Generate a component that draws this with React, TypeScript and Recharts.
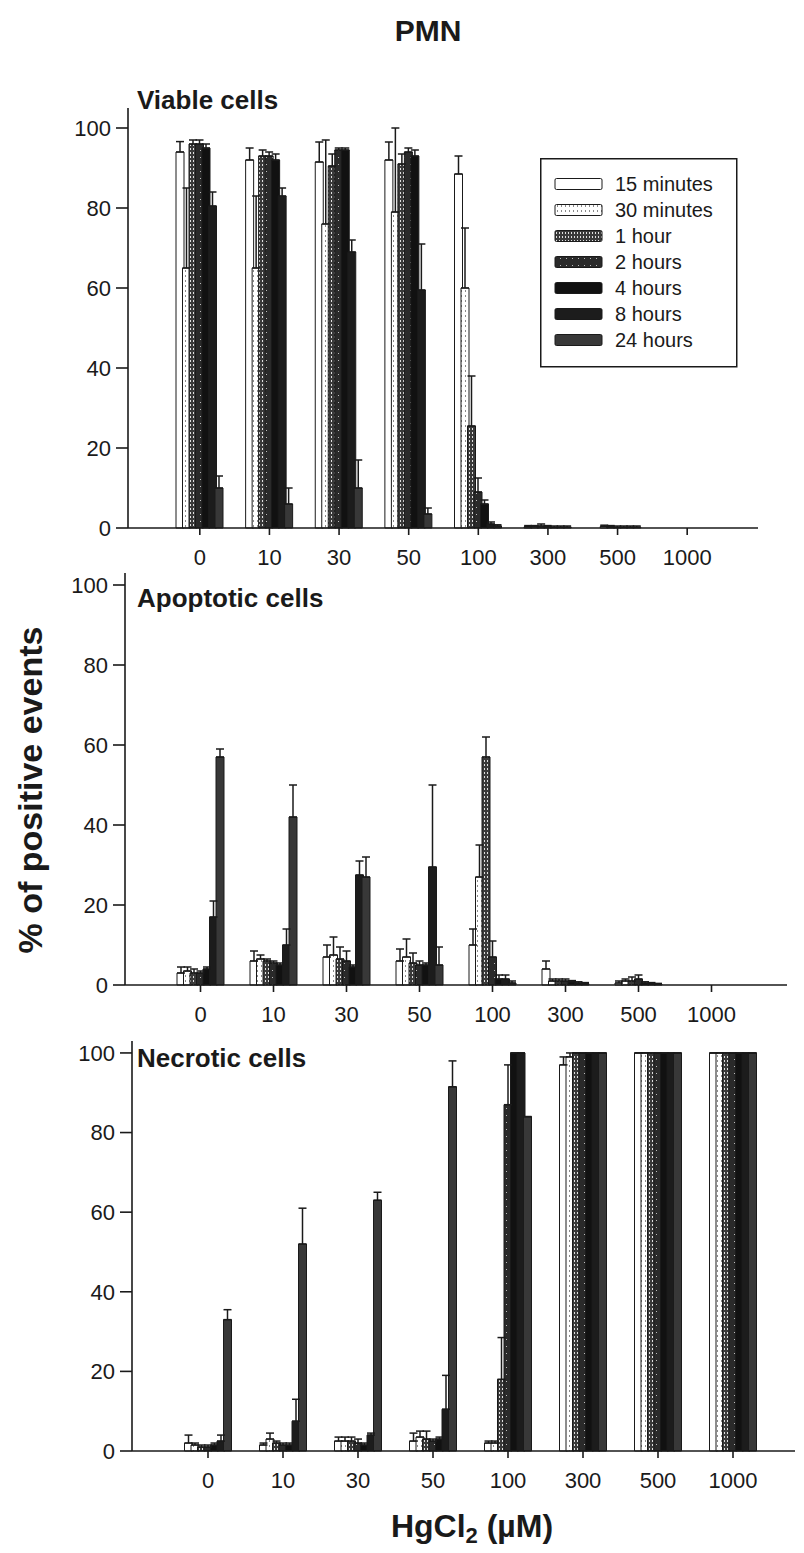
import React from "react";
import { BarChart, Bar, XAxis, YAxis, ErrorBar } from "recharts";

const categories = ["0", "10", "30", "50", "100", "300", "500", "1000"];
const seriesNames = ["15 minutes", "30 minutes", "1 hour", "2 hours", "4 hours", "8 hours", "24 hours"];
const yTicks = [0, 20, 40, 60, 80, 100];

// rows = incubation time (15 min ... 24 h), columns = HgCl2 dose
const viableMean = [
  [94, 92, 91.5, 92, 88.5, 0.3, 0, 0],
  [65, 65, 76, 79, 60, 0.3, 0.4, 0],
  [96, 93, 90.5, 91, 25.5, 0.5, 0.3, 0],
  [96, 93, 94.5, 94, 9, 0.3, 0.2, 0],
  [95, 92, 94.5, 93, 6, 0.2, 0.2, 0],
  [80.5, 83, 69, 59.5, 1, 0.2, 0.2, 0],
  [10, 6, 10, 3.5, 0.5, 0.2, 0.2, 0],
];
const viableErr = [
  [2.6, 3, 5, 4.5, 4.5, 0.3, 0, 0],
  [20, 18, 21, 21, 15, 0.3, 0.3, 0],
  [1, 1.5, 3, 2.5, 12.5, 0.5, 0.3, 0],
  [1, 1, 0.5, 1, 3.5, 0.3, 0.3, 0],
  [1, 1.5, 0.5, 1.5, 1, 0.3, 0.3, 0],
  [3.5, 2, 3, 11.5, 0.5, 0.3, 0.3, 0],
  [3, 4, 7, 1.5, 0.3, 0.3, 0.3, 0],
];

const apoptoticMean = [
  [3, 6, 7, 6, 10, 4, 0.5, 0],
  [3.5, 6.5, 7.5, 7, 27, 1, 1, 0],
  [3, 6, 6.5, 5.5, 57, 1, 1, 0],
  [3, 5.5, 6, 5, 7, 1, 1.5, 0],
  [4, 5, 4.5, 5, 1.5, 0.8, 0.5, 0],
  [17, 10, 27.5, 29.5, 1.5, 0.5, 0.3, 0],
  [57, 42, 27, 5, 0.5, 0.3, 0.2, 0],
];
const apoptoticErr = [
  [1.5, 2.5, 3, 3, 4, 2, 0.5, 0],
  [1, 1, 4.5, 4.5, 8, 0.5, 0.5, 0],
  [1, 0.5, 3, 2.5, 5, 0.5, 1, 0],
  [0.5, 0.5, 2.5, 1, 4, 0.5, 1, 0],
  [0.5, 0.5, 0.5, 0.5, 1, 0.3, 0.3, 0],
  [4, 4, 3.5, 20.5, 1, 0.3, 0.3, 0],
  [2, 8, 5, 4.5, 0.5, 0.3, 0.2, 0],
];

const necroticMean = [
  [2, 1.5, 2.5, 2.5, 2, 97, 100, 100],
  [1.5, 3, 2.5, 3.5, 2, 99, 100, 100],
  [1, 2, 2.5, 3, 18, 100, 100, 100],
  [1, 1.5, 2, 2.5, 87, 100, 100, 100],
  [1.5, 1.5, 1.5, 3, 100, 100, 100, 100],
  [2.5, 7.5, 4, 10.5, 100, 100, 100, 100],
  [33, 52, 63, 91.5, 84, 100, 100, 100],
];
const necroticErr = [
  [2, 0.5, 1, 2, 0.5, 2, 0, 0],
  [0.5, 1.5, 1, 1.5, 0.5, 1, 0, 0],
  [0.5, 0.5, 1, 2, 10.5, 0, 0, 0],
  [0.5, 0.5, 1, 0.5, 10, 0, 0, 0],
  [0.5, 0.5, 0.5, 0.5, 0, 0, 0, 0],
  [1.5, 5.5, 0.5, 8.5, 0, 0, 0, 0],
  [2.5, 9, 2, 6.5, 0, 0, 0, 0],
];

const fills = ["#ffffff", "url(#p30)", "url(#p1h)", "url(#p2h)", "#111111", "#1c1c1c", "#383838"];

const font = "'Liberation Sans', Arial, Helvetica, sans-serif";
const ink = "#1a1a1a";

function buildRows(mean: number[][], err: number[][]) {
  return categories.map((dose, j) => {
    const row: Record<string, any> = { dose };
    seriesNames.forEach((_, i) => {
      row[`m${i}`] = mean[i][j];
      row[`e${i}`] = [0, err[i][j]];
    });
    return row;
  });
}

interface PanelProps {
  data: Record<string, any>[];
  top: number;
  height: number;
  margin: { top: number; right: number; left: number; bottom: number };
  pad: { left: number; right: number };
  yMax: number;
}

function Panel({ data, top, height, margin, pad, yMax }: PanelProps) {
  const line = { stroke: ink, strokeWidth: 1.6 };
  const tick = { fontSize: 22, fill: ink, fontFamily: font };
  return (
    <div style={{ position: "absolute", left: 0, top, width: 804, height }}>
      <BarChart width={804} height={height} data={data} margin={margin} barSize={8} barGap={-1.5}>
        <XAxis
          dataKey="dose"
          interval={0}
          padding={pad}
          height={40}
          tickSize={7}
          tickMargin={14}
          axisLine={line}
          tickLine={line}
          tick={tick}
        />
        <YAxis
          domain={[0, yMax]}
          ticks={yTicks}
          width={60}
          tickSize={12}
          tickMargin={5}
          axisLine={line}
          tickLine={line}
          tick={tick}
        />
        {seriesNames.map((name, i) => (
          <Bar key={name} dataKey={`m${i}`} fill={fills[i]} stroke={ink} strokeWidth={1} isAnimationActive={false}>
            <ErrorBar dataKey={`e${i}`} width={4} stroke={ink} strokeWidth={1.5} direction="y" />
          </Bar>
        ))}
      </BarChart>
    </div>
  );
}

function Legend() {
  return (
    <svg style={{ position: "absolute", left: 540, top: 158 }} width={198} height={210}>
      <rect x={0.75} y={0.75} width={196} height={208} fill="#fff" stroke={ink} strokeWidth={1.5} />
      {seriesNames.map((name, i) => (
        <g key={name} transform={`translate(0, ${26 + i * 26})`}>
          <rect x={15} y={-5.5} width={47} height={11} fill={fills[i]} stroke={ink} strokeWidth={1} rx={1.5} />
          <text x={75} y={7} fontSize={20} fill={ink} fontFamily={font}>
            {name}
          </text>
        </g>
      ))}
    </svg>
  );
}

const titleStyle: React.CSSProperties = {
  position: "absolute",
  fontFamily: font,
  fontWeight: 700,
  color: ink,
  whiteSpace: "nowrap",
  lineHeight: 1,
};

export default function App() {
  const viable = buildRows(viableMean, viableErr);
  const apoptotic = buildRows(apoptoticMean, apoptoticErr);
  const necrotic = buildRows(necroticMean, necroticErr);

  return (
    <div style={{ position: "absolute", left: 0, top: 0, width: 804, height: 1553, background: "#fff", overflow: "hidden" }}>
      <svg width={0} height={0} style={{ position: "absolute" }}>
        <defs>
          <pattern id="p30" width={4} height={5} patternUnits="userSpaceOnUse">
            <rect width={4} height={5} fill="#fff" />
            <rect x={1} y={0} width={1} height={2} fill="#8a8a8a" />
          </pattern>
          <pattern id="p1h" width={3} height={4} patternUnits="userSpaceOnUse">
            <rect width={3} height={4} fill="#3a3a3a" />
            <rect x={1} y={0} width={1} height={2} fill="#e0e0e0" />
          </pattern>
          <pattern id="p2h" width={6} height={7} patternUnits="userSpaceOnUse">
            <rect width={6} height={7} fill="#2a2a2a" />
            <rect x={2} y={3} width={1} height={1} fill="#bbbbbb" />
          </pattern>
        </defs>
      </svg>

      <div style={{ ...titleStyle, left: 0, width: 856, top: 16, textAlign: "center", fontSize: 30 }}>PMN</div>

      <Panel data={viable} top={0} height={580} margin={{ top: 108, right: 46, left: 68, bottom: 12 }} pad={{ left: 37, right: 36 }} yMax={105} />
      <Panel data={apoptotic} top={540} height={520} margin={{ top: 33, right: 17, left: 65, bottom: 35 }} pad={{ left: 39, right: 39 }} yMax={103} />
      <Panel data={necrotic} top={1000} height={553} margin={{ top: 41, right: 9, left: 72, bottom: 62 }} pad={{ left: 38.5, right: 24.5 }} yMax={103} />

      <div style={{ ...titleStyle, left: 137, top: 87, fontSize: 26 }}>Viable cells</div>
      <div style={{ ...titleStyle, left: 137, top: 585, fontSize: 26 }}>Apoptotic cells</div>
      <div style={{ ...titleStyle, left: 137, top: 1045, fontSize: 26 }}>Necrotic cells</div>

      <Legend />

      <div
        style={{
          ...titleStyle,
          left: 30 - 200,
          top: 790 - 17,
          width: 400,
          textAlign: "center",
          fontSize: 34,
          transform: "rotate(-90deg)",
        }}
      >
        % of positive events
      </div>

      <div style={{ ...titleStyle, left: 0, width: 944, top: 1510, textAlign: "center", fontSize: 32 }}>
        HgCl<sub style={{ fontSize: 22, verticalAlign: "-0.25em", lineHeight: 0 }}>2</sub> (µM)
      </div>
    </div>
  );
}
